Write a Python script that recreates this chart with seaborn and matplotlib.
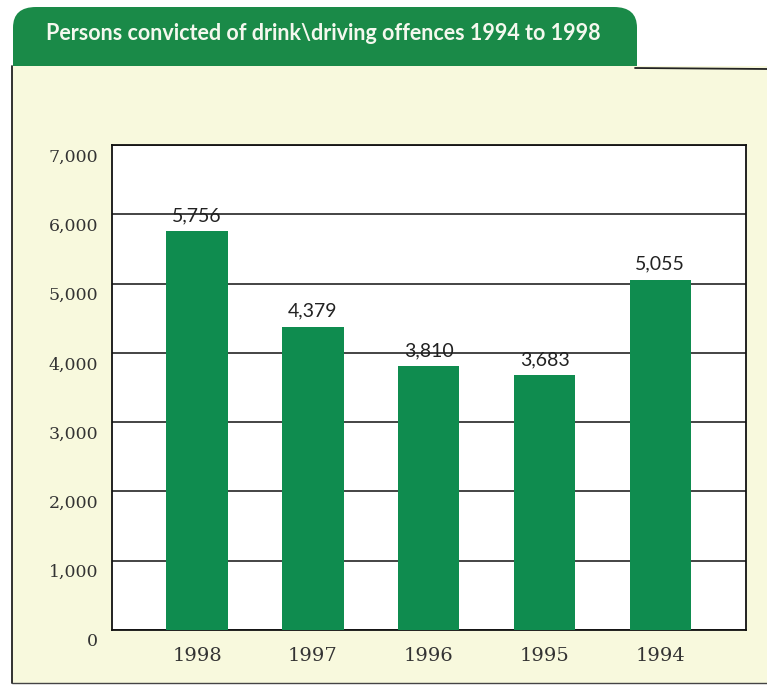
import matplotlib
matplotlib.use('Agg')
import matplotlib.pyplot as plt
import matplotlib.transforms as mtransforms
from matplotlib.patches import FancyBboxPatch, Rectangle
import pandas as pd
import seaborn as sns

# data
years = ['1998', '1997', '1996', '1995', '1994']
convictions = [5756, 4379, 3810, 3683, 5055]
yticks = [0, 1000, 2000, 3000, 4000, 5000, 6000, 7000]
title = 'Persons convicted of drink\\driving offences 1994 to 1998'

df = pd.DataFrame({'year': years, 'convicted': convictions})

sns.set_style('white')
bar_green = '#0f8c4f'
tab_green = '#1a8a48'
cream = '#f8f9dd'

W, H = 767, 686
fig = plt.figure(figsize=(W / 100, H / 100), dpi=100)
fig.patch.set_facecolor('white')


def fx(px):
    return px / W


def fy(py):
    return 1 - py / H


# green title tab (rounded top), then the cream panel over its lower part
tab = FancyBboxPatch((fx(13), fy(100)), fx(637) - fx(13), fy(7) - fy(100),
                     boxstyle='round,pad=0,rounding_size=0.03',
                     transform=fig.transFigure, facecolor=tab_green,
                     edgecolor='none', zorder=0)
fig.patches.append(tab)
panel = Rectangle((fx(12), fy(683)), 1 - fx(12), fy(66) - fy(683),
                  transform=fig.transFigure, facecolor=cream,
                  edgecolor='none', zorder=1)
fig.patches.append(panel)
fig.lines.append(plt.Line2D([fx(12), fx(12)], [fy(66), fy(683)],
                            transform=fig.transFigure, color='#222', lw=1.3))
fig.lines.append(plt.Line2D([fx(12), 1], [fy(683), fy(683)],
                            transform=fig.transFigure, color='#444', lw=1.0))
fig.lines.append(plt.Line2D([fx(635), 1], [fy(68), fy(69)],
                            transform=fig.transFigure, color='#222', lw=1.3))
fig.text(fx(46), fy(34), title, color='#f4f8ee', fontsize=15.5,
         fontweight='bold', family='Lato',
         va='center', ha='left', zorder=3)

ax = fig.add_axes([fx(112), fy(630), fx(746) - fx(112), fy(145) - fy(630)])
ax.set_zorder(2)
ax.set_facecolor('white')
sns.barplot(data=df, x='year', y='convicted', color=bar_green, width=0.53,
            saturation=1, linewidth=0, ax=ax, zorder=3)
ax.set_ylim(0, 7000)
ax.set_xlim(-0.735, 4.74)
ax.set_yticks(yticks)
ax.set_yticklabels([f'{v:,}' for v in yticks])
ax.set_xlabel('')
ax.set_ylabel('')
ax.grid(axis='y', color='#111', lw=1.1, zorder=0)
ax.set_axisbelow(True)
for s in ax.spines.values():
    s.set_visible(True)
    s.set_color('#111')
    s.set_linewidth(1.3)
ax.tick_params(axis='both', length=0, colors='#333')
ax.tick_params(axis='y', pad=10)
ax.tick_params(axis='x', pad=12)
for lab in ax.get_yticklabels():
    lab.set_family('DejaVu Serif')
    lab.set_fontsize(12.5)
    lab.set_transform(lab.get_transform() +
                      mtransforms.ScaledTranslation(0, -10 / 100, fig.dpi_scale_trans))
for lab in ax.get_xticklabels():
    lab.set_family('DejaVu Serif')
    lab.set_fontsize(14)

ax.bar_label(ax.containers[0], labels=[f'{v:,}' for v in convictions],
             padding=5, fontsize=14, color='#222', family='Lato')

fig.savefig('out.png', dpi=100, facecolor=fig.get_facecolor())
